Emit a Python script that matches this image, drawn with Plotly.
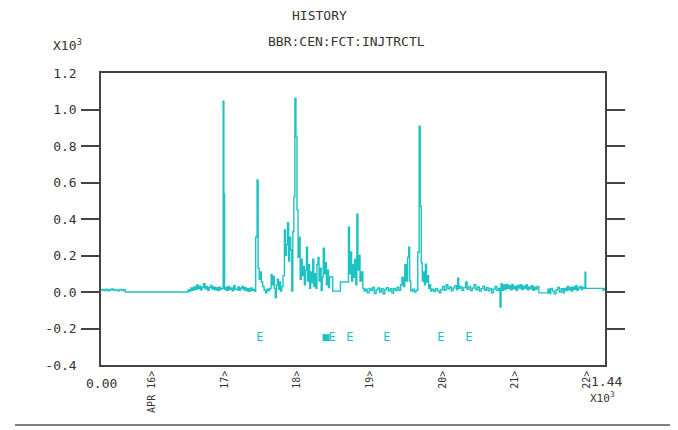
import plotly.graph_objects as go

# trace values (x in raw units, y in raw units; axis shows x10^3)
t = [0, 5, 10, 15, 20, 25, 30, 35, 40, 46, 52, 58, 64, 69,
     249, 253, 257, 261, 265, 269, 273, 277, 281, 285, 289, 293, 297, 301, 305, 309, 313, 317, 321, 325, 329, 333, 337, 341, 345,
     349, 351, 353,
     355, 359, 363, 367, 371, 375, 379, 383, 387, 391, 395, 399, 403, 407, 411, 415, 419, 423, 427, 431, 435, 439,
     442, 446, 449, 452, 455, 458, 462, 466, 470, 474, 478, 482, 486, 489, 492, 495, 498, 501, 504, 507, 510, 513, 516, 520,
     524, 527, 530, 533, 536, 539, 542, 545, 548, 551, 554, 557, 560, 563, 566, 569, 572, 575, 578, 581, 584, 587, 590,
     593, 596, 599, 602, 605, 608, 611, 614, 617, 620, 623, 626, 629, 632, 635, 638, 641, 644, 647, 650, 653, 662, 684,
     707, 710, 713, 716, 719, 722, 725, 728, 731, 734, 737, 740, 744, 748, 752,
     756, 761, 766, 771, 776, 781, 786, 791, 796, 801, 806, 811, 816, 821, 826, 831, 836, 841, 846, 851,
     856, 860, 864, 868, 872, 876, 879, 882, 885, 890, 895, 900, 905, 909, 912, 915, 918, 921, 924, 927, 930, 933, 936, 939, 942,
     946, 951, 956, 961, 966, 971, 976, 981, 986, 991, 996, 1001, 1006, 1011, 1016, 1019, 1022, 1026, 1031, 1036, 1042,
     1046, 1051, 1056, 1061, 1066, 1071, 1076, 1081, 1086, 1091, 1096, 1101, 1106, 1111, 1116, 1121, 1126, 1131, 1136,
     1140, 1143, 1146, 1150, 1154, 1158, 1162, 1166, 1170, 1174, 1178, 1182, 1186, 1190, 1194, 1198, 1202, 1206, 1210,
     1214, 1218, 1222, 1226, 1230, 1234, 1238, 1242, 1246, 1251, 1277, 1281, 1285, 1290, 1295, 1300, 1305, 1310, 1315,
     1320, 1324, 1328, 1332, 1336, 1340, 1344, 1348, 1352, 1356, 1360, 1364, 1368, 1372, 1376, 1380, 1383, 1385, 1434, 1437, 1440]

val = [10, 14, 8, 15, 6, 12, 17, 9, 13, 6, 14, 8, 12, 0,
       12, 5, 22, 10, 28, 14, 38, 18, 32, 12, 26, 45, 18, 30, 10, 24, 36, 16, 28, 12, 24, 8, 26, 14, 20,
       1045, 540, 15,
       25, 8, 30, 14, 22, 6, 34, 16, 12, 28, 10, 22, 30, 12, 24, 6, 18, 4, 22, 10, 16, 4,
       300, 614, 130, 70, 110, 55, 30, 10, -5, 15, 8, 20, 95, 40, 85, 20, -30, 40, 70, 15, 55, 5, 30, 90,
       340, 200, 260, 380, 170, 300, 230, 5, 330, 520, 1060, 850, 450, 190, 300, 70, 180, 90, 140, 40, 120, 245, 60,
       150, 20, 110, 50, 180, 30, 100, 20, 150, 190, 60, 130, 10, 80, 240, 100, 160, 40, 120, 25, 82, 5, 55,
       355, 100, 220, 60, 150, 80, 180, 40, 426, 120, 200, 60, 110, 20, 5,
       15, -5, 20, 8, 25, -8, 12, 22, 0, 18, -10, 14, 24, 5, 18, -6, 20, 8, 26, 10,
       40, 80, 30, 150, 60, 190, 246, 60, 5, 15, 0, 10, 218, 909, 470, 160, 60, 110, 40, 153, 55, 90, 20, 40, 5,
       15, 4, 20, 8, -4, 12, 30, 10, 40, 18, 28, 6, 22, 35, 12, 76, 20, 30, 10, 24, 55,
       15, 30, 8, 22, 40, 12, 28, 5, 18, 32, 10, 24, 6, 20, -5, 15, 30, 8, 20,
       -82, 45, 10, 38, 15, 42, 20, 35, 12, 40, 18, 30, 10, 36, 22, 40, 14, 32, 20,
       38, 12, 28, 18, 35, 10, 26, 15, 30, -5, 15, -8, 20, 5, -10, 12, 25, 0, 18,
       -5, 20, 8, 30, 12, 25, 5, 28, 15, 35, 10, 22, 30, 14, 26, 20, 108, 20, 10, 20, 12]

# event markers
event_x = [454, 660, 711, 817, 971, 1051]
event_y = [-250, -250, -250, -250, -250, -250]
block_x = [643]
block_y = [-250]

# axis ticks
y_ticks = [-400, -200, 0, 200, 400, 600, 800, 1000, 1200]
y_labels = ["-0.4", "-0.2", "0.0", "0.2", "0.4", "0.6", "0.8", "1.0", "1.2"]
y_marks = [-200, 0, 200, 400, 600, 800, 1000]
x_ticks = [146, 353, 560, 768, 975, 1182, 1389]
x_labels = ["APR 16>", "17>", "18>", "19>", "20>", "21>", "22>"]

teal = "#1fc2c2"
ink = "#333333"
mono = "DejaVu Sans Mono"

fig = go.Figure()
fig.add_trace(go.Scatter(x=t, y=val, mode="lines", line=dict(color=teal, width=1.4, shape="hv"),
                         hoverinfo="skip"))
fig.add_trace(go.Scatter(x=event_x, y=event_y, mode="text", text=["E"] * len(event_x),
                         textfont=dict(family=mono, size=12, color=teal)))
fig.add_trace(go.Scatter(x=block_x, y=block_y, mode="markers",
                         marker=dict(symbol="square", size=7, color=teal)))

# page body has an 8px margin, so the plot box (101..605, 73..365 on screen) is set 8px back
fig.update_layout(
    width=678, height=430,
    margin=dict(l=93, r=81, t=65, b=73),
    paper_bgcolor="white", plot_bgcolor="white",
    showlegend=False,
    font=dict(family=mono, size=11, color=ink),
)
fig.update_xaxes(range=[0, 1440], tickvals=x_ticks, ticktext=x_labels, tickangle=-90,
                 ticks="", showline=True, linecolor="#444", linewidth=1.5, mirror=True,
                 showgrid=False, zeroline=False, tickfont=dict(family=mono, size=10, color=ink))
fig.update_yaxes(range=[-400, 1200], tickvals=y_ticks, ticktext=y_labels,
                 ticks="outside", ticklen=18, tickcolor="rgba(0,0,0,0)", ticklabelstandoff=2,
                 showline=True, linecolor="#444", linewidth=1.5, mirror="ticks",
                 showgrid=False, zeroline=False, tickfont=dict(family=mono, size=13, color=ink),
                 minor=dict(tickvals=y_marks, ticks="outside", ticklen=18, tickcolor="#444", tickwidth=1.5))

# screen positions of the loose texts, converted to plot-area fractions
notes = [
    ("HISTORY", 319, 15, 13),
    ("BBR:CEN:FCT:INJTRCTL", 346, 42, 13),
    ("X10<sup>3</sup>", 67, 45, 13),
    ("0.00", 101, 383, 13),
    ("1.44", 606, 381, 13),
    ("X10<sup>3</sup>", 602, 397, 11),
]
for txt, x, y, s in notes:
    fig.add_annotation(text=txt, x=(x - 101) / 504, y=(365 - y) / 292, xref="paper", yref="paper",
                       showarrow=False, xanchor="center", yanchor="middle",
                       font=dict(family=mono, size=s, color=ink))

fig.add_shape(type="line", xref="paper", yref="paper",
              x0=(15 - 101) / 504, x1=(690 - 101) / 504,
              y0=(365 - 425) / 292, y1=(365 - 425) / 292,
              line=dict(color="#555", width=1.5))

fig.write_html("out.html")
